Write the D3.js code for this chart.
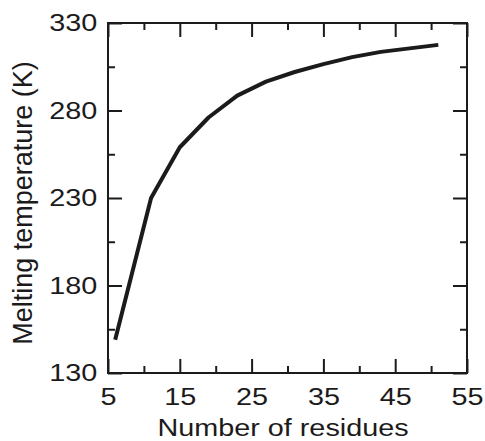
<!DOCTYPE html>
<html>
<head>
<meta charset="utf-8">
<script src="https://cdn.jsdelivr.net/npm/d3@7"></script>
<style>
  html, body { margin: 0; padding: 0; background: #fff; }
  svg { display: block; font-family: "Liberation Sans", Arial, Helvetica, sans-serif; }
</style>
</head>
<body>
<svg id="chart" width="485" height="441"></svg>
<script>
// ── Data ─────────────────────────────────────────────
const residues = [6, 11, 15, 19, 23, 27, 31, 35, 39, 43, 47, 51];
const meltingK = [149, 230, 259, 276, 288.5, 296.5, 302, 306.5, 310.5, 313.5, 315.5, 317.5];

const xMajor = [5, 15, 25, 35, 45, 55];
const xMinor = [10, 20, 30, 40, 50];
const yMajor = [130, 180, 230, 280, 330];
const yMinor = [155, 205, 255, 305];

const xTitle = 'Number of residues';
const yTitle = 'Melting temperature (K)';

// ── Layout ───────────────────────────────────────────
const INK    = '#1c1a1b';
const margin = { top: 23, right: 18, bottom: 68, left: 108 };
const W = 485, H = 441;
const plotW = W - margin.left - margin.right;   // 359
const plotH = H - margin.top - margin.bottom;   // 350
const STRETCH = 1.2;  // the original type is set wide

const svg = d3.select('#chart');
const g = svg.append('g').attr('transform', `translate(${margin.left},${margin.top})`);

const x = d3.scaleLinear().domain([5, 55]).range([0, plotW]);
const y = d3.scaleLinear().domain([130, 330]).range([plotH, 0]);

// ── Ticks (inward, all four sides) ───────────────────
function addAxis(axis, transform, labelled) {
    const a = g.append('g').attr('transform', transform).call(axis);
    a.select('.domain').remove();
    a.selectAll('line').attr('stroke', INK).attr('stroke-width', 2);
    if (!labelled) a.selectAll('text').remove();
    return a;
}

const bottom = addAxis(d3.axisBottom(x).tickValues(xMajor).tickSize(-14).tickPadding(15).tickFormat(d3.format('d')),
    `translate(0,${plotH})`, true);
addAxis(d3.axisBottom(x).tickValues(xMinor).tickSize(-7), `translate(0,${plotH})`, false);
addAxis(d3.axisTop(x).tickValues(xMajor).tickSize(-14), 'translate(0,0)', false);
addAxis(d3.axisTop(x).tickValues(xMinor).tickSize(-7), 'translate(0,0)', false);

const left = addAxis(d3.axisLeft(y).tickValues(yMajor).tickSize(-14).tickPadding(9).tickFormat(d3.format('d')),
    'translate(0,0)', true);
addAxis(d3.axisLeft(y).tickValues(yMinor).tickSize(-7), 'translate(0,0)', false);
addAxis(d3.axisRight(y).tickValues(yMajor).tickSize(-14), `translate(${plotW},0)`, false);
addAxis(d3.axisRight(y).tickValues(yMinor).tickSize(-7), `translate(${plotW},0)`, false);

[bottom, left].forEach(a => a.selectAll('text')
    .attr('fill', INK)
    .style('font-size', '24px')
    .style('font-family', '"Liberation Sans", Arial, Helvetica, sans-serif')
    .attr('transform', `scale(${STRETCH},1)`));

// ── Frame ────────────────────────────────────────────
g.append('rect')
    .attr('x', 0).attr('y', 0)
    .attr('width', plotW).attr('height', plotH)
    .attr('fill', 'none')
    .attr('stroke', INK)
    .attr('stroke-width', 2);

// ── Curve ────────────────────────────────────────────
const pts = residues.map((r, i) => [r, meltingK[i]]);
g.append('path')
    .datum(pts)
    .attr('fill', 'none')
    .attr('stroke', INK)
    .attr('stroke-width', 4)
    .attr('stroke-linejoin', 'round')
    .attr('d', d3.line().x(d => x(d[0])).y(d => y(d[1])));

// ── Axis titles ──────────────────────────────────────
svg.append('text')
    .attr('transform', `translate(283,436) scale(${STRETCH},1)`)
    .attr('text-anchor', 'middle')
    .attr('fill', INK)
    .style('font-size', '24px')
    .text(xTitle);

svg.append('text')
    .attr('transform', 'translate(32,203) rotate(-90)')
    .attr('text-anchor', 'middle')
    .attr('fill', INK)
    .style('font-size', '27px')
    .text(yTitle);
</script>
</body>
</html>
